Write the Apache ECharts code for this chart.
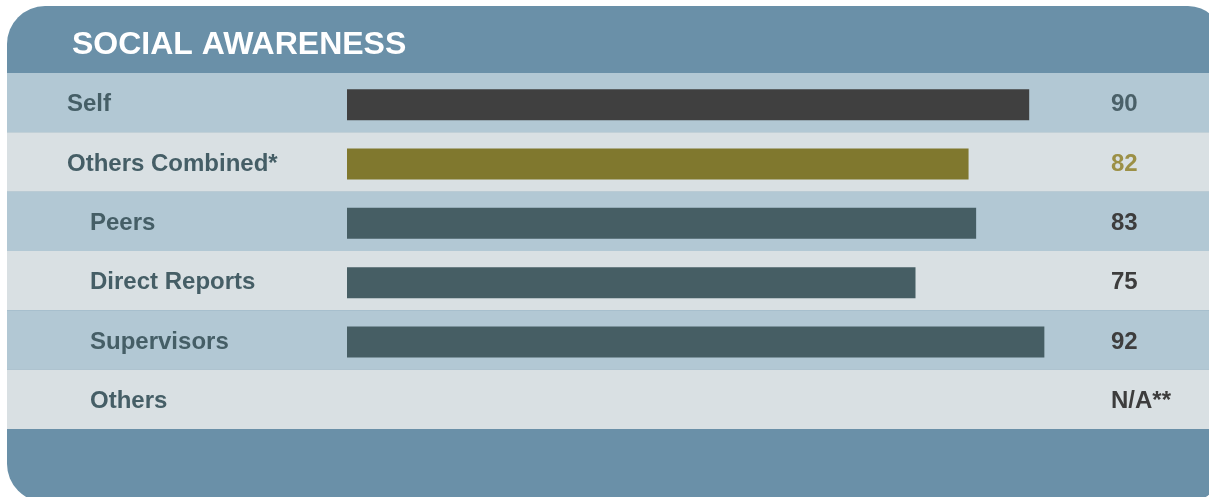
<!DOCTYPE html>
<html>
<head>
<meta charset="utf-8">
<script src="https://cdn.jsdelivr.net/npm/echarts@6/dist/echarts.min.js"></script>
<style>
html,body{margin:0;padding:0;background:#ffffff;}
#chart{width:1209px;height:497px;}
</style>
</head>
<body>
<div id="chart"></div>
<script>
const titleText = 'SOCIAL AWARENESS';
const categories = ['Self', 'Others Combined*', 'Peers', 'Direct Reports', 'Supervisors', 'Others'];
const indented = [false, false, true, true, true, true];
const scores = [90, 82, 83, 75, 92, null];
const missingLabel = 'N/A**';
const barColors = ['#404040', '#80782e', '#465e64', '#465e64', '#465e64', '#465e64'];
const valueColors = ['#4a6068', '#9c9046', '#3d3d3d', '#3d3d3d', '#3d3d3d', '#3d3d3d'];

const chart = echarts.init(document.getElementById('chart'), null, {renderer: 'canvas'});
const FONT = '"Liberation Sans", Arial, Helvetica, sans-serif';

chart.setOption({
  animation: false,
  backgroundColor: '#ffffff',
  graphic: [{
    type: 'rect',
    z: -10,
    silent: true,
    shape: {x: 7, y: 6, width: 1215, height: 496, r: [38, 34, 34, 38]},
    style: {fill: '#6a90a8'}
  }],
  title: {
    text: titleText,
    left: 67,
    top: 24,
    textStyle: {color: '#ffffff', fontFamily: FONT, fontWeight: 'bold', fontSize: 32}
  },
  grid: [
    {left: 7, right: 0, top: 73, height: 356, containLabel: false},
    {left: 347, width: 758, top: 75, height: 356, containLabel: false}
  ],
  xAxis: [
    {gridIndex: 0, type: 'value', min: 0, max: 100, show: false},
    {gridIndex: 1, type: 'value', min: 0, max: 100, show: false}
  ],
  yAxis: [
    {
      gridIndex: 0, type: 'category', inverse: true, data: categories,
      axisLine: {show: false}, axisTick: {show: false},
      splitLine: {show: false},
      splitArea: {show: true, interval: 0, areaStyle: {color: ['#b2c8d4', '#d9e0e3']}},
      axisLabel: {
        inside: true, margin: 60, interval: 0,
        formatter: function (v, i) { return indented[i] ? '{b|' + v + '}' : '{a|' + v + '}'; },
        rich: {
          a: {color: '#455e66', fontFamily: FONT, fontWeight: 'bold', fontSize: 24, padding: [4, 0, 0, 0]},
          b: {color: '#455e66', fontFamily: FONT, fontWeight: 'bold', fontSize: 24, padding: [4, 0, 0, 23]}
        }
      }
    },
    {
      gridIndex: 1, type: 'category', inverse: true, data: categories, position: 'right',
      axisLine: {show: false}, axisTick: {show: false}, splitLine: {show: false},
      axisLabel: {
        margin: 6, interval: 0,
        fontFamily: FONT, fontWeight: 'bold', fontSize: 24,
        color: function (v, i) { return valueColors[categories.indexOf(v)]; },
        formatter: function (v, i) {
          const s = scores[categories.indexOf(v)];
          return s == null ? missingLabel : String(s);
        }
      }
    }
  ],
  series: [{
    type: 'bar',
    xAxisIndex: 1, yAxisIndex: 1,
    data: scores,
    barWidth: 31,
    itemStyle: {color: function (p) { return barColors[p.dataIndex]; }},
    label: {show: false}
  }]
});
</script>
</body>
</html>
